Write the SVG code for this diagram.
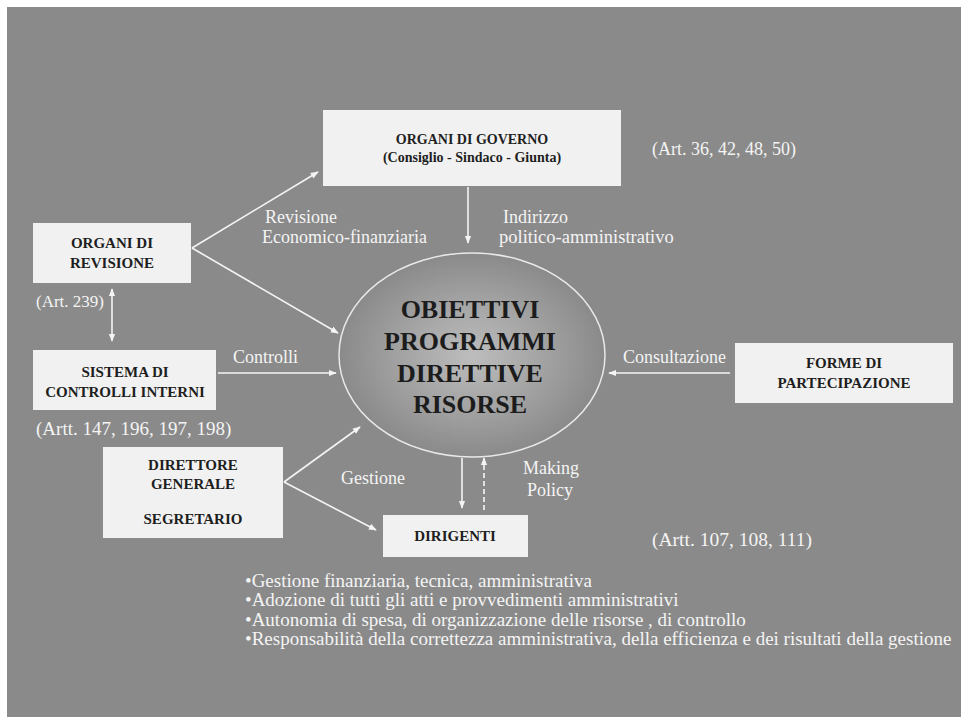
<svg xmlns="http://www.w3.org/2000/svg" width="961" height="717" viewBox="0 0 961 717">
<defs>
<style>
.bg{fill:#8a8a8a}
.box{fill:#f1f1f1}
.bt{font-family:"Liberation Serif",serif;font-weight:bold;font-size:15px;fill:#1e1e1e;text-anchor:middle}
.wl{font-family:"Liberation Serif",serif;font-size:18px;fill:#f4f4f4}
.ct{font-family:"Liberation Serif",serif;font-weight:bold;font-size:26px;fill:#1c1c1c;text-anchor:middle}
.cn{stroke:#f4f4f4;stroke-width:1.6;fill:none}
.bl{font-family:"Liberation Serif",serif;font-size:19px;fill:#f4f4f4}
</style>
<marker id="ah" viewBox="0 0 10 10" refX="9" refY="5" markerWidth="8" markerHeight="8" markerUnits="userSpaceOnUse" orient="auto-start-reverse">
<path d="M0,1 L10,5 L0,9 Z" fill="#f4f4f4"/>
</marker>
<radialGradient id="eg" cx="0.5" cy="0.5" r="0.5">
<stop offset="0" stop-color="#bdbdbd"/>
<stop offset="0.55" stop-color="#a2a2a2"/>
<stop offset="1" stop-color="#8a8a8a"/>
</radialGradient>
</defs>
<rect width="961" height="717" fill="#ffffff"/>
<rect class="bg" x="7" y="7" width="954" height="710"/>

<g id="center">
<ellipse cx="472" cy="355" rx="133" ry="102" fill="url(#eg)" stroke="#e8e8e8" stroke-width="1.5"/>
<text class="ct" x="470" y="318">OBIETTIVI</text>
<text class="ct" x="470" y="350">PROGRAMMI</text>
<text class="ct" x="470" y="382">DIRETTIVE</text>
<text class="ct" x="470" y="413">RISORSE</text>
</g>

<g id="organi-governo">
<rect class="box" x="323" y="110" width="298" height="76"/>
<text class="bt" x="472" y="144" style="font-size:14px">ORGANI  DI GOVERNO</text>
<text class="bt" x="472" y="162" style="font-size:14px">(Consiglio - Sindaco - Giunta)</text>
<text class="wl" x="652" y="155">(Art. 36, 42, 48, 50)</text>
</g>

<g id="organi-revisione">
<rect class="box" x="33" y="223" width="158" height="60"/>
<text class="bt" x="112" y="248">ORGANI DI</text>
<text class="bt" x="112" y="268">REVISIONE</text>
<text class="wl" x="36" y="307" style="font-size:17px">(Art. 239)</text>
</g>

<g id="sistema-controlli">
<rect class="box" x="33" y="350" width="183" height="60"/>
<text class="bt" x="125" y="377">SISTEMA DI</text>
<text class="bt" x="125" y="397">CONTROLLI INTERNI</text>
<text class="wl" x="36" y="435" style="font-size:19px">(Artt. 147, 196, 197, 198)</text>
</g>

<g id="forme-partecipazione">
<rect class="box" x="735" y="343" width="218" height="60"/>
<text class="bt" x="844" y="368">FORME DI</text>
<text class="bt" x="844" y="388">PARTECIPAZIONE</text>
</g>

<g id="direttore-generale">
<rect class="box" x="103" y="447" width="180" height="91"/>
<text class="bt" x="193" y="470">DIRETTORE</text>
<text class="bt" x="193" y="489">GENERALE</text>
<text class="bt" x="193" y="524">SEGRETARIO</text>
</g>

<g id="dirigenti">
<rect class="box" x="383" y="515" width="145" height="42"/>
<text class="bt" x="455" y="541">DIRIGENTI</text>
<text class="wl" x="652" y="546" style="font-size:19.5px">(Artt. 107, 108, 111)</text>
</g>

<g id="connectors">
<line class="cn" x1="192" y1="248" x2="318" y2="172" marker-end="url(#ah)"/>
<line class="cn" x1="192" y1="248" x2="338" y2="333" marker-end="url(#ah)"/>
<line class="cn" x1="112" y1="289" x2="112" y2="341" marker-start="url(#ah)" marker-end="url(#ah)"/>
<line class="cn" x1="218" y1="373" x2="336" y2="373" marker-end="url(#ah)"/>
<line class="cn" x1="468" y1="187" x2="468" y2="243" marker-end="url(#ah)"/>
<line class="cn" x1="730" y1="373" x2="609" y2="373" marker-end="url(#ah)"/>
<line class="cn" x1="284" y1="482" x2="360" y2="427" marker-end="url(#ah)"/>
<line class="cn" x1="284" y1="482" x2="376" y2="530" marker-end="url(#ah)"/>
<line class="cn" x1="462" y1="458" x2="462" y2="508" marker-end="url(#ah)"/>
<line class="cn" x1="484" y1="510" x2="484" y2="458" stroke-dasharray="5,3" marker-end="url(#ah)"/>
<text class="wl" x="265" y="223">Revisione</text>
<text class="wl" x="262" y="243">Economico-finanziaria</text>
<text class="wl" x="503" y="223">Indirizzo</text>
<text class="wl" x="499" y="243" style="font-size:18.5px">politico-amministrativo</text>
<text class="wl" x="233" y="363">Controlli</text>
<text class="wl" x="623" y="363">Consultazione</text>
<text class="wl" x="341" y="484">Gestione</text>
<text class="wl" x="523" y="474">Making</text>
<text class="wl" x="527" y="496">Policy</text>
</g>

<g id="bullets">
<text class="bl" x="245" y="587">•Gestione finanziaria, tecnica, amministrativa</text>
<text class="bl" x="245" y="606">•Adozione di tutti gli atti e provvedimenti amministrativi</text>
<text class="bl" x="245" y="626">•Autonomia di spesa, di organizzazione delle risorse , di controllo</text>
<text class="bl" x="245" y="645">•Responsabilità della correttezza amministrativa, della efficienza e dei risultati della gestione</text>
</g>
</svg>
